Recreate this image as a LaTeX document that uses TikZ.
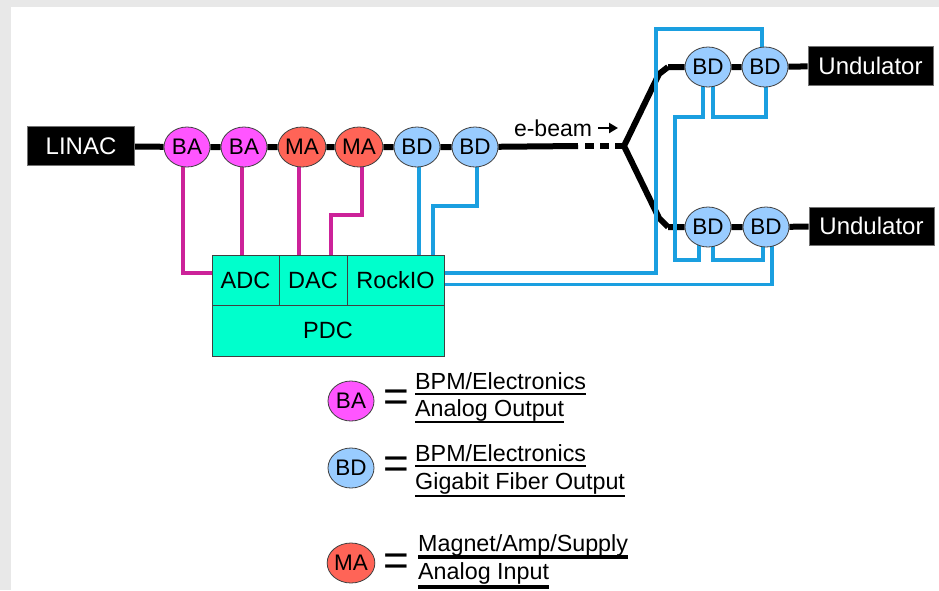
\documentclass[tikz,border=0pt]{standalone}
\usepackage{fontspec}
\setmainfont{Liberation Sans}
\usetikzlibrary{shapes.geometric,arrows.meta,backgrounds}
\definecolor{bgray}{HTML}{E8E8E8}
\definecolor{cBA}{HTML}{FF55FF}
\definecolor{cMA}{HTML}{FF6457}
\definecolor{cBD}{HTML}{99CCFF}
\definecolor{cPDC}{HTML}{00FFCC}
\definecolor{cMag}{HTML}{CC2299}
\definecolor{cBlu}{HTML}{1A9FE0}
\begin{document}
\begin{tikzpicture}[x=1pt,y=-1pt,
  dev/.style={ellipse,draw=black!75,line width=0.8pt,minimum width=46pt,minimum height=40pt,inner sep=0pt,font=\fontsize{22.5}{24}\selectfont},
  ba/.style={dev,fill=cBA},
  ma/.style={dev,fill=cMA},
  bdn/.style={dev,fill=cBD},
  blk/.style={rectangle,fill=black,draw=black!55,line width=0.8pt,text=white,inner sep=0pt,font=\fontsize{24}{26}\selectfont},
  cell/.style={rectangle,fill=cPDC,draw=black!75,line width=0.8pt,inner sep=0pt,font=\fontsize{23.5}{26}\selectfont},
  beam/.style={line width=6pt,black},
  magl/.style={line width=4pt,cMag},
  blul/.style={line width=3.5pt,cBlu},
  lt/.style={inner sep=0pt,anchor=base west,font=\fontsize{23.3}{26}\selectfont},
  eqs/.style={inner sep=0pt,font=\fontsize{44}{46}\selectfont},
  ul/.style={line width=2pt,black},
  ulb/.style={line width=3.5pt,black}
]
\useasboundingbox (0,0) rectangle (939,590);

% beamline nodes
\node[blk,minimum width=107pt,minimum height=39pt] (linac) at (81,146) {LINAC};
\node[ba] (ba1) at (187,147) {BA};
\node[ba] (ba2) at (244,147) {BA};
\node[ma] (ma1) at (302,147) {MA};
\node[ma] (ma2) at (359,147) {MA};
\node[bdn] (bd1) at (417,147) {BD};
\node[bdn] (bd2) at (475,147) {BD};

\node[bdn] (ubd1) at (708,67) {BD};
\node[bdn] (ubd2) at (765,67) {BD};
\node[blk,minimum width=125pt,minimum height=39pt] (und1) at (870.5,65.5) {Undulator};
\node[bdn] (lbd1) at (708,227) {BD};
\node[bdn] (lbd2) at (766,227) {BD};
\node[blk,minimum width=125pt,minimum height=38pt] (und2) at (871.5,226) {Undulator};

% PDC
\node[cell,minimum width=67pt,minimum height=50pt] (adc) at (245.5,280) {ADC};
\node[cell,minimum width=68pt,minimum height=50pt] (dac) at (313,280) {DAC};
\node[cell,minimum width=97pt,minimum height=50pt] (rockio) at (395.5,280) {RockIO};
\node[cell,minimum width=232pt,minimum height=51pt] (pdc) at (328,330.5) {PDC};

% e-beam label
\node[inner sep=0pt,font=\fontsize{23}{25}\selectfont] (eb) at (553,128) {e-beam};
\coordinate (ea0) at (598,128);
\coordinate (ea1) at (618,128);
\draw[line width=2.8pt,-{Triangle[length=9pt,width=10pt]}] (ea0) -- (ea1);

% legend
\node[ba] (lba) at (351,401) {BA};
\node[eqs] (eq1) at (396,401) {=};
\node[lt] (t1) at (415,389) {BPM/Electronics};
\node[lt] (t2) at (415,416) {Analog Output};
\draw[ul] ([yshift=-5pt]t1.base west) -- ([yshift=-5pt]t1.base east);
\draw[ul] ([yshift=-6pt]t2.base west) -- ([yshift=-6pt]t2.base east);

\node[bdn] (lbd) at (351,468) {BD};
\node[eqs] (eq2) at (396,468) {=};
\node[lt] (t3) at (415,461) {BPM/Electronics};
\node[lt] (t4) at (415,489.5) {Gigabit Fiber Output};
\draw[ul] ([yshift=-5pt]t3.base west) -- ([yshift=-5pt]t3.base east);
\draw[ul] ([yshift=-6pt]t4.base west) -- ([yshift=-6pt]t4.base east);

\node[ma] (lma) at (351,563) {MA};
\node[eqs] (eq3) at (396,565) {=};
\node[lt] (t5) at (418,551) {Magnet/Amp/Supply};
\node[lt] (t6) at (418,579) {Analog Input};
\draw[ulb] ([yshift=-6pt]t5.base west) -- ([yshift=-6pt]t5.base east);
\draw[ulb] ([yshift=-8pt]t6.base west) -- ([yshift=-8pt]t6.base east);

% coordinates for connector bends
\coordinate (d0) at (578,146);
\coordinate (d1) at (585,146);
\coordinate (fork) at (624,146);
\coordinate (u1) at (659,74);
\coordinate (u2) at (668,67);
\coordinate (l1) at (659,218);
\coordinate (l2) at (668,227);
\coordinate (m1) at (331,215);
\coordinate (b1) at (433,206);
\coordinate (o1) at (656,29);
\coordinate (i1) at (675,117);
\coordinate (i2) at (699,260);
\coordinate (i3) at (766,117);
\coordinate (i4) at (763,260);

\begin{pgfonlayer}{background}
\fill[bgray] (0,0) rectangle (939,590);
\fill[white] (11,7) rectangle (939,590);

% beam
\draw[beam] (linac) -- (ba1) -- (ba2) -- (ma1) -- (ma2) -- (bd1) -- (bd2) -- (d0);
\draw[beam,dash pattern=on 9pt off 6pt] (d1) -- (fork);
\draw[beam] (u2) -- (u1) -- (fork) -- (l1) -- (l2);
\draw[beam] (u2) -- (ubd1) -- (ubd2) -- (und1);
\draw[beam] (l2) -- (lbd1) -- (lbd2) -- (und2);

% magenta (analog) cables
\draw[magl] ([xshift=-4pt]ba1.center) |- ([yshift=7pt]adc.west);
\draw[magl] ([xshift=-2pt]ba2.center) -- ([xshift=-2pt]ba2.center |- adc.north);
\draw[magl] ([xshift=-3pt]ma1.center) -- ([xshift=-3pt]ma1.center |- dac.north);
\draw[magl] ([xshift=3pt]ma2.center) |- (m1) -- (m1 |- dac.north);

% blue (fiber) cables
\draw[blul] ([xshift=2pt]bd1.center) -- ([xshift=2pt]bd1.center |- rockio.north);
\draw[blul] ([xshift=2pt]bd2.center) |- (b1) -- (b1 |- rockio.north);
\draw[blul] ([yshift=7pt]rockio.east) -| (o1) -| ([xshift=-3pt]ubd2.center);
\draw[blul] ([yshift=-4.5pt]rockio.east) -| ([xshift=6pt]lbd2.center);
\draw[blul] ([xshift=-5pt]ubd1.center) |- (i1) |- (i2) -- (i2 |- lbd1.center);
\draw[blul] ([xshift=5pt]ubd1.center) |- (i3) -- (i3 |- ubd2.center);
\draw[blul] ([xshift=5pt]lbd1.center) |- (i4) -- (i4 |- lbd2.center);
\end{pgfonlayer}
\end{tikzpicture}
\end{document}
